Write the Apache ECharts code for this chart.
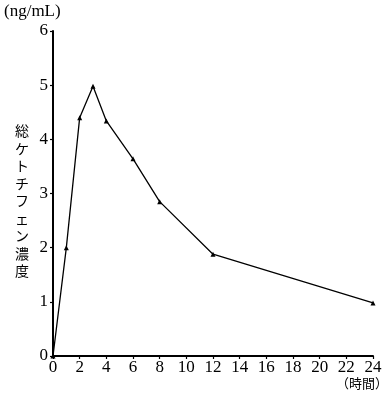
<!DOCTYPE html>
<html><head><meta charset="utf-8">
<script src="https://cdn.jsdelivr.net/npm/echarts@6/dist/echarts.min.js"></script>
<style>html,body{margin:0;padding:0;background:#fff}#c{width:385px;height:398px}</style>
</head><body><div id="c"></div>
<script>
const hours = [0, 1, 2, 3, 4, 6, 8, 12, 24];
const concentration = [0, 2.0, 4.4, 4.98, 4.34, 3.64, 2.85, 1.88, 0.98];
const xTicks = [0, 2, 4, 6, 8, 10, 12, 14, 16, 18, 20, 22, 24];
const yTicks = [0, 1, 2, 3, 4, 5, 6];
const yUnit = '(ng/mL)';
const yTitle = '総ケトチフェン濃度';
const xUnit = '（時間）';

const serif = '"Liberation Serif", "DejaVu Serif", serif';
const chart = echarts.init(document.getElementById('c'));
chart.setOption({
  animation: false,
  backgroundColor: '#fff',
  grid: {left: 53, right: 12, top: 31, bottom: 42},
  xAxis: {
    type: 'value', min: 0, max: 24, interval: 2,
    axisLine: {lineStyle: {color: '#000', width: 2}},
    axisTick: {show: true, length: 3, lineStyle: {color: '#000', width: 1.2}},
    axisLabel: {color: '#000', fontFamily: serif, fontSize: 17, margin: 3,
      formatter: v => xTicks.includes(v) ? String(v) : ''},
    splitLine: {show: false}
  },
  yAxis: {
    type: 'value', min: 0, max: 6, interval: 1,
    axisLine: {show: true, lineStyle: {color: '#000', width: 2}},
    axisTick: {show: true, length: 3, lineStyle: {color: '#000', width: 1.2}},
    axisLabel: {color: '#000', fontFamily: serif, fontSize: 17, margin: 5,
      formatter: v => yTicks.includes(v) ? String(v) : ''},
    splitLine: {show: false}
  },
  series: [{
    type: 'line',
    data: hours.map((h, i) => [h, concentration[i]]),
    symbol: 'triangle', symbolSize: 5,
    showSymbol: true,
    lineStyle: {color: '#000', width: 1.3},
    itemStyle: {color: '#000'}
  }],
  graphic: [
    {type: 'text', left: 4, top: 3, style: {text: yUnit, fontFamily: serif, fontSize: 17, fill: '#000'}},
    {type: 'text', left: 15, top: 122, style: {text: yTitle.split('').join('\n'), fontFamily: '"Noto Sans CJK JP", sans-serif', fontSize: 14, lineHeight: 17.5, fill: '#000', align: 'left'}},
    {type: 'text', left: 336, top: 377, style: {text: xUnit, fontFamily: '"Noto Sans CJK JP", sans-serif', fontSize: 13, fill: '#000'}}
  ]
});
</script></body></html>
